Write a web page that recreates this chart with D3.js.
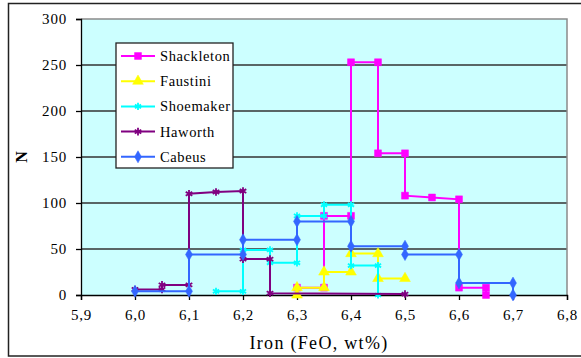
<!DOCTYPE html>
<html>
<head>
<meta charset="utf-8">
<script src="https://cdn.jsdelivr.net/npm/d3@7"></script>
<style>
  body { margin: 0; background: #fff; }
  svg { display: block; }
</style>
</head>
<body>
<div id="chart"></div>
<script>
// Series data (x = FeO wt%, y = N)
const seriesNames = ["Shackleton", "Faustini", "Shoemaker", "Haworth", "Cabeus"];

const shackletonX = [6.30, 6.35, 6.35, 6.40, 6.40, 6.45, 6.45, 6.50, 6.50, 6.55, 6.60, 6.60, 6.65, 6.65];
const shackletonY = [8, 8, 86, 86, 253, 253, 154, 154, 108, 106, 104, 8, 8, 0];

const faustiniX = [6.30, 6.30, 6.35, 6.35, 6.40, 6.40, 6.45, 6.45, 6.50];
const faustiniY = [0, 8, 8, 25, 25, 45, 45, 18, 18];

const shoemakerX = [6.15, 6.20, 6.20, 6.25, 6.25, 6.30, 6.30, 6.35, 6.35, 6.40, 6.40, 6.45, 6.45];
const shoemakerY = [4, 4, 49, 49, 35, 35, 86, 86, 98, 98, 32, 32, 0];

const haworthX = [6.00, 6.05, 6.05, 6.10, 6.10, 6.15, 6.20, 6.20, 6.25, 6.25, 6.50];
const haworthY = [6, 6, 11, 11, 110, 112, 113, 39, 39, 2, 1];

const cabeusX = [6.00, 6.10, 6.10, 6.20, 6.20, 6.30, 6.30, 6.40, 6.40, 6.50, 6.50, 6.60, 6.60, 6.70, 6.70];
const cabeusY = [4, 4, 44, 44, 60, 60, 80, 80, 53, 53, 44, 44, 13, 13, 0];

const xTicks = [5.9, 6.0, 6.1, 6.2, 6.3, 6.4, 6.5, 6.6, 6.7, 6.8];
const yTicks = [0, 50, 100, 150, 200, 250, 300];

const FONT = "'Liberation Serif', 'Times New Roman', serif";

// styling per series
const styles = {
    Shackleton: { color: "#ff00ff", symbol: d3.symbolSquare, size: 48, fill: true },
    Faustini:   { color: "#ffff00", symbol: d3.symbolTriangle, size: 50, fill: true },
    Shoemaker:  { color: "#00ffff", symbol: d3.symbolAsterisk, size: 36, fill: false },
    Haworth:    { color: "#800080", symbol: d3.symbolAsterisk, size: 40, fill: false },
    Cabeus:     { color: "#3366ff", symbol: d3.symbolDiamond, size: 42, fill: true }
};

const zip = (xs, ys) => xs.map((x, i) => ({ x: x, y: ys[i] }));
const series = [
    { name: "Shackleton", values: zip(shackletonX, shackletonY) },
    { name: "Faustini", values: zip(faustiniX, faustiniY) },
    { name: "Shoemaker", values: zip(shoemakerX, shoemakerY) },
    { name: "Haworth", values: zip(haworthX, haworthY) },
    { name: "Cabeus", values: zip(cabeusX, cabeusY) }
];

const W = 581, H = 358;
const margin = { top: 19, right: 14, bottom: 63, left: 81 },
    width = W - margin.left - margin.right,
    height = H - margin.top - margin.bottom;

const svg = d3.select("#chart")
    .append("svg")
    .attr("width", W)
    .attr("height", H)
    .attr("font-family", FONT);

// outer chart frame
svg.append("rect")
    .attr("x", 8.5).attr("y", 3.5)
    .attr("width", 620).attr("height", 352.5)
    .attr("fill", "#fff")
    .attr("stroke", "#222")
    .attr("stroke-width", 1.5);

const g = svg.append("g")
    .attr("transform", `translate(${margin.left},${margin.top})`);

const x = d3.scaleLinear().domain([5.9, 6.8]).range([0, width]);
const y = d3.scaleLinear().domain([0, 300]).range([height, 0]);

// plot area
g.append("rect")
    .attr("width", width)
    .attr("height", height)
    .attr("fill", "#ccffff");

// horizontal gridlines
g.append("g")
    .selectAll("line")
    .data(yTicks.filter(d => d > 0 && d < 300))
    .join("line")
    .attr("x1", 0).attr("x2", width)
    .attr("y1", d => y(d)).attr("y2", d => y(d))
    .attr("stroke", "#333")
    .attr("stroke-width", 1.6);

// top/right border of plot area
g.append("path")
    .attr("d", `M0,${y(300)}H${width}V${height}`)
    .attr("fill", "none")
    .attr("stroke", "#8a8a8a")
    .attr("stroke-width", 1.5);

// axes
const xAxis = g.append("g")
    .attr("transform", `translate(0,${height})`)
    .call(d3.axisBottom(x).tickValues(xTicks).tickSize(5).tickPadding(9)
        .tickFormat(d => d3.format(".1f")(d).replace(".", ",")));
const yAxis = g.append("g")
    .call(d3.axisLeft(y).tickValues(yTicks).tickSize(5).tickPadding(9));

[xAxis, yAxis].forEach(a => {
    a.attr("font-family", FONT).attr("font-size", 15);
    a.select(".domain").attr("stroke", "#000").attr("stroke-width", 1.3);
    a.selectAll(".tick line").attr("stroke", "#000").attr("stroke-width", 1.3);
    a.selectAll("text")
        .attr("fill", "#000")
        .attr("letter-spacing", "0.8px");
});

// series lines and markers
const line = d3.line().x(d => x(d.x)).y(d => y(d.y));

series.forEach(s => {
    const st = styles[s.name];
    g.append("path")
        .datum(s.values)
        .attr("fill", "none")
        .attr("stroke", st.color)
        .attr("stroke-width", 2)
        .attr("d", line);

    g.selectAll(null)
        .data(s.values)
        .join("path")
        .attr("transform", d => `translate(${x(d.x)},${y(d.y)})`)
        .attr("d", d3.symbol().type(st.symbol).size(st.size))
        .attr("fill", st.fill ? st.color : "none")
        .attr("stroke", st.color)
        .attr("stroke-width", st.fill ? 0.5 : 1.8);
});

// legend
const legend = svg.append("g").attr("transform", "translate(116,43)");
legend.append("rect")
    .attr("width", 117).attr("height", 125)
    .attr("fill", "#fff")
    .attr("stroke", "#222")
    .attr("stroke-width", 1.3);

seriesNames.forEach((name, i) => {
    const st = styles[name];
    const ly = 13 + i * 25.2;
    legend.append("line")
        .attr("x1", 5).attr("x2", 39)
        .attr("y1", ly).attr("y2", ly)
        .attr("stroke", st.color)
        .attr("stroke-width", 2);
    legend.append("path")
        .attr("transform", `translate(22,${ly})`)
        .attr("d", d3.symbol().type(st.symbol).size(st.size))
        .attr("fill", st.fill ? st.color : "none")
        .attr("stroke", st.color)
        .attr("stroke-width", st.fill ? 0.5 : 1.8);
    legend.append("text")
        .attr("x", 44)
        .attr("y", ly + 5)
        .attr("font-size", 14.5)
        .attr("letter-spacing", "0.6px")
        .text(name);
});

// axis titles
svg.append("text")
    .attr("x", margin.left + width / 2 - 5)
    .attr("y", 349)
    .attr("text-anchor", "middle")
    .attr("font-size", 18)
    .attr("letter-spacing", "1.3px")
    .text("Iron (FeO, wt%)");

svg.append("text")
    .attr("transform", "translate(27,157) rotate(-90)")
    .attr("text-anchor", "middle")
    .attr("font-size", 16)
    .attr("font-weight", "bold")
    .text("N");
</script>
</body>
</html>
